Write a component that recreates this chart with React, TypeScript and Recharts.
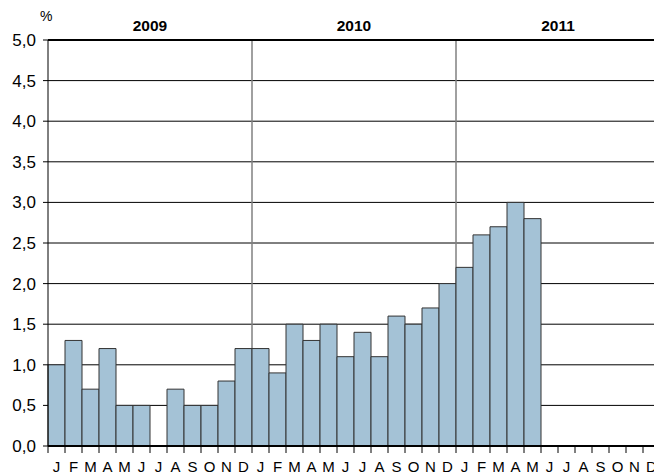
import React from 'react';
import { BarChart, Bar, XAxis, YAxis, CartesianGrid, ReferenceLine } from 'recharts';

const months = ['J', 'F', 'M', 'A', 'M', 'J', 'J', 'A', 'S', 'O', 'N', 'D'];
const years = ['2009', '2010', '2011'];
const values2009 = [1.0, 1.3, 0.7, 1.2, 0.5, 0.5, 0, 0.7, 0.5, 0.5, 0.8, 1.2];
const values2010 = [1.2, 0.9, 1.5, 1.3, 1.5, 1.1, 1.4, 1.1, 1.6, 1.5, 1.7, 2.0];
const values2011 = [2.2, 2.6, 2.7, 3.0, 2.8, null, null, null, null, null, null, null];
const yTicks = [0, 0.5, 1, 1.5, 2, 2.5, 3, 3.5, 4, 4.5, 5];

const seriesByYear = [values2009, values2010, values2011];
const data = years.flatMap((yr, yi) =>
  months.map((m, mi) => ({
    key: `${yr}-${mi + 1}`,
    month: m,
    year: yr,
    value: seriesByYear[yi][mi],
  }))
);

const FONT = '"Liberation Sans", Arial, Helvetica, sans-serif';

const MonthTick = (props: any) => {
  const { x, y, payload } = props;
  const half = payload && typeof payload.offset === 'number' && payload.offset > 0 ? payload.offset : 8.5;
  const item = data[payload.index] || data.find((d) => d.key === payload.value);
  return (
    <g>
      <line x1={x - half} x2={x - half} y1={y} y2={y + 7} stroke="#000" strokeWidth={1} />
      <text x={x} y={y + 25.5} textAnchor="middle" fontSize={15} fontFamily={FONT} fill="#000">
        {item ? item.month : ''}
      </text>
    </g>
  );
};

export default function App() {
  return (
    <div style={{ position: 'absolute', left: 0, top: 0, width: 654, height: 474, overflow: 'hidden', background: '#fff' }}>
      <BarChart
        width={680}
        height={474}
        data={data}
        margin={{ top: 0, right: 20, bottom: 0, left: 0 }}
        barCategoryGap={0}
        barGap={0}
      >
        <CartesianGrid vertical={false} stroke="#000" strokeWidth={1} />
        <CartesianGrid
          horizontal={false}
          stroke="#808080"
          strokeWidth={1.5}
          verticalCoordinatesGenerator={(p: any) => {
            const off = p && p.offset ? p.offset : { left: 48, width: 612 };
            return [1, 2].map((i) => off.left + (off.width * i) / 3);
          }}
        />
        <XAxis
          dataKey="key"
          interval={0}
          tickLine={false}
          tickSize={0}
          tickMargin={0}
          height={28}
          axisLine={{ stroke: '#000', strokeWidth: 2 }}
          tick={<MonthTick />}
        />
        <XAxis
          xAxisId="year"
          dataKey="year"
          orientation="top"
          allowDuplicatedCategory={false}
          axisLine={false}
          tickLine={false}
          tickSize={0}
          tickMargin={9}
          height={40}
          interval={0}
          tick={{ fontSize: 15.5, fontWeight: 'bold', fill: '#000', fontFamily: FONT }}
        />
        <YAxis
          width={48}
          domain={[0, 5]}
          ticks={yTicks}
          interval={0}
          tickSize={5}
          tickMargin={7}
          axisLine={{ stroke: '#000', strokeWidth: 1 }}
          tickLine={{ stroke: '#000', strokeWidth: 1 }}
          tickFormatter={(v: number) => v.toFixed(1).replace('.', ',')}
          tick={{ fontSize: 17, fill: '#000', fontFamily: FONT }}
        />
        <Bar dataKey="value" fill="#a4c2d6" stroke="#333" strokeWidth={1} isAnimationActive={false} />
        <ReferenceLine y={5} stroke="#000" strokeWidth={2} />
      </BarChart>
      <div style={{ position: 'absolute', left: 40, top: 8, fontSize: 14, fontFamily: FONT, color: '#000' }}>%</div>
    </div>
  );
}
